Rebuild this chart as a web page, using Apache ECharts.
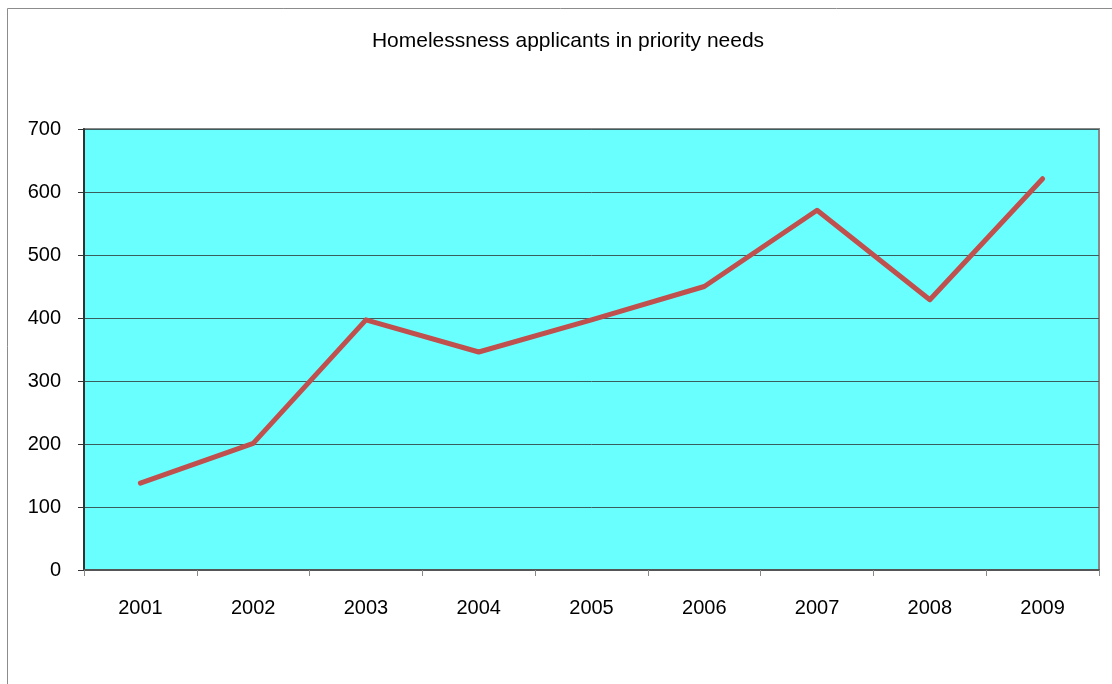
<!DOCTYPE html>
<html>
<head>
<meta charset="utf-8">
<script src="https://cdn.jsdelivr.net/npm/echarts@6/dist/echarts.min.js"></script>
<style>
html,body{margin:0;padding:0;background:#fff;}
#chart{width:1112px;height:684px;}
</style>
</head>
<body>
<div id="chart"></div>
<script>
const titleText = 'Homelessness applicants in priority needs';
const years = ['2001','2002','2003','2004','2005','2006','2007','2008','2009'];
const applicants = [138, 201, 397, 346, 397, 450, 571, 429, 621];
const yTicks = {min: 0, max: 700, interval: 100};

const chart = echarts.init(document.getElementById('chart'), null, {renderer: 'canvas'});
chart.setOption({
  animation: false,
  backgroundColor: '#ffffff',
  title: {
    text: titleText,
    left: 563,
    textAlign: 'center',
    top: 26,
    textStyle: {fontFamily: 'Liberation Sans, Arial, sans-serif', fontSize: 21, fontWeight: 'normal', color: '#000'}
  },
  graphic: [{
    type: 'rect',
    shape: {x: 7.5, y: 8.5, width: 1120, height: 690},
    style: {fill: 'none', stroke: '#8c8c8c', lineWidth: 1},
    silent: true
  }],
  grid: {
    left: 84, right: 13, top: 129, bottom: 114,
    show: true,
    backgroundColor: '#69FFFF',
    borderColor: '#888888',
    borderWidth: 2
  },
  xAxis: {
    type: 'category',
    data: years,
    boundaryGap: true,
    axisLine: {show: true, lineStyle: {color: '#555', width: 2}},
    axisTick: {show: true, alignWithLabel: false, length: 6, lineStyle: {color: '#888'}},
    axisLabel: {margin: 28, fontFamily: 'Liberation Sans, Arial, sans-serif', fontSize: 20, color: '#000'},
    splitLine: {show: false}
  },
  yAxis: {
    type: 'value',
    min: yTicks.min, max: yTicks.max, interval: yTicks.interval,
    axisLine: {show: true, lineStyle: {color: '#333', width: 2}},
    axisTick: {show: true, length: 6, lineStyle: {color: '#333'}},
    axisLabel: {margin: 23, fontFamily: 'Liberation Sans, Arial, sans-serif', fontSize: 20, color: '#000'},
    splitLine: {show: true, lineStyle: {color: '#3a5e5e', width: 1}}
  },
  series: [{
    type: 'line',
    data: applicants,
    showSymbol: false,
    symbol: 'none',
    lineStyle: {color: '#C0504D', width: 5, cap: 'round', join: 'round'},
    itemStyle: {color: '#C0504D'}
  }]
});
</script>
</body>
</html>
